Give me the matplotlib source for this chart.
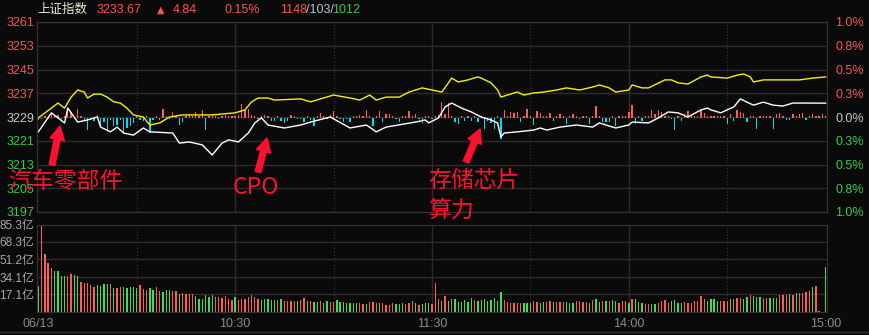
import matplotlib.pyplot as plt
from matplotlib.lines import Line2D

plt.rcParams['font.family'] = ['Liberation Sans', 'Noto Sans CJK SC', 'DejaVu Sans']

# ---- data ----
prev_close = 3228.83
last_price = 3233.67
change = 4.84
change_pct = '0.15%'
up_count, flat_count, down_count = 1148, 103, 1012

price_ticks = [3197, 3205, 3213, 3221, 3229, 3237, 3245, 3253, 3261]
pct_labels = ['1.0%', '0.8%', '0.5%', '0.3%', '0.0%', '0.3%', '0.5%', '0.8%', '1.0%']
vol_ticks = [17.1, 34.1, 51.2, 68.3, 85.3]
time_pos = [0, 60, 120, 180, 240]
time_labels = ['06/13', '10:30', '11:30', '14:00', '15:00']

# weighted index (white), minute -> price
white_min = [0, 4, 8, 9, 12, 15, 18, 19, 22, 24, 26, 29, 32, 34, 41, 43, 46, 50, 53, 56,
             58, 61, 64, 66, 68, 70, 75, 80, 83, 89, 95, 100, 103, 106, 115, 118, 119, 122,
             124, 126, 129, 132, 135, 138, 140, 141, 142, 146, 151, 153, 155, 159, 164, 169,
             171, 176, 180, 181, 186, 189, 192, 195, 198, 202, 204, 205, 208, 210, 212, 214,
             216, 218, 221, 224, 227, 230, 233, 240]
white_val = [3224.0, 3230.4, 3227.0, 3232.0, 3227.3, 3228.0, 3229.0, 3225.6, 3224.0, 3225.6,
             3223.6, 3222.9, 3225.3, 3224.0, 3223.6, 3220.2, 3220.6, 3219.6, 3216.2, 3220.2,
             3221.3, 3220.6, 3223.6, 3227.0, 3228.7, 3226.3, 3225.3, 3226.3, 3227.3, 3229.0,
             3225.3, 3226.3, 3224.0, 3225.6, 3227.3, 3228.0, 3227.0, 3228.7, 3232.4, 3233.7,
             3232.0, 3230.7, 3229.0, 3228.0, 3227.0, 3222.3, 3223.6, 3224.0, 3224.6, 3225.3,
             3224.6, 3225.6, 3226.3, 3225.6, 3227.0, 3225.3, 3226.3, 3227.3, 3227.0, 3228.7,
             3230.7, 3230.4, 3229.0, 3231.4, 3232.0, 3231.4, 3230.4, 3231.4, 3232.4, 3235.1,
             3234.0, 3233.0, 3234.0, 3233.0, 3232.7, 3233.7, 3233.7, 3233.67]

# unweighted index (yellow)
yellow_min = [0, 4, 6, 8, 10, 12, 14, 15, 17, 19, 21, 23, 25, 27, 29, 32, 34, 37, 40, 44,
              53, 60, 63, 65, 67, 70, 72, 80, 83, 86, 90, 95, 98, 101, 103, 106, 110, 113,
              117, 120, 123, 125, 126, 128, 131, 134, 135, 138, 140, 141, 143, 146, 148, 151,
              154, 158, 161, 165, 169, 171, 174, 176, 180, 181, 184, 186, 191, 193, 195, 198,
              202, 204, 205, 210, 213, 215, 217, 218, 221, 232, 236, 240]
yellow_val = [3228.7, 3232.0, 3233.7, 3232.0, 3235.7, 3238.1, 3237.4, 3235.4, 3236.7, 3236.7,
              3235.7, 3234.1, 3233.7, 3232.0, 3229.7, 3229.0, 3226.3, 3227.0, 3229.0, 3229.7,
              3229.7, 3230.4, 3231.4, 3234.1, 3235.4, 3235.4, 3234.7, 3235.1, 3234.1, 3235.1,
              3236.4, 3235.4, 3234.7, 3236.4, 3234.7, 3235.7, 3235.7, 3237.4, 3238.8, 3238.1,
              3237.4, 3240.5, 3242.1, 3240.8, 3241.5, 3242.5, 3242.1, 3240.5, 3238.1, 3235.7,
              3236.4, 3237.4, 3236.4, 3237.1, 3237.4, 3238.1, 3238.8, 3238.1, 3239.1, 3239.8,
              3238.8, 3237.4, 3238.1, 3239.8, 3238.8, 3238.8, 3241.5, 3241.5, 3240.5, 3240.1,
              3242.5, 3243.1, 3242.5, 3242.1, 3243.1, 3243.5, 3242.5, 3240.8, 3241.5, 3241.5,
              3242.1, 3242.5]

# buy/sell strength bars around the zero line, one per minute
strength = [-2, -1, 1, -1, 3, 1, 2, -1, 1, 8,
            5, -1, 8, 1, -2, -12, -2, -3, 2, -7,
            -4, -13, -2, -8, -7, -2, -15, -10, -8, -5,
            2, -2, -3, 1, -15, -2, 1, -2, 8, 1,
            -1, 5, 1, -7, -4, 1, 2, 1, 5, 1,
            7, -12, 1, 3, 1, -1, 1, 2, 1, 1,
            1, 2, 13, 7, 8, 2, 1, -1, 1, 2,
            1, -3, -3, 1, -3, -5, -3, 2, 1, -1,
            -1, -4, 1, -2, -8, 1, 4, 1, -1, 2,
            6, 1, -1, -4, -1, -4, 1, 1, 2, 1,
            7, 1, -8, 1, 6, -4, 3, 3, 1, -1,
            -4, 1, 1, 6, 1, 3, -1, -5, 1, 1,
            -1, 1, 2, 15, 3, 14, 1, -4, -6, 1,
            -3, 1, -3, 1, -4, 1, -11, -3, -5, -11,
            1, -21, 7, 1, 5, 4, 5, -4, 1, 8,
            1, -7, 6, 4, 1, 1, 4, -3, 1, 3,
            1, -6, 1, 3, 1, -1, 1, 1, -6, 1,
            11, 1, -4, -4, -4, 1, -8, 1, 1, 1,
            5, 12, -6, 1, -3, 1, 1, 7, 3, 7,
            5, 1, 1, -1, -12, 1, -3, 3, 6, 1,
            1, 1, 7, 4, 1, 1, 1, 1, 1, 1,
            -6, 3, -3, 7, 5, 4, -4, 1, 1, -11,
            1, 1, 1, 1, -11, 3, 4, 1, -2, -2,
            3, 1, 3, 4, -2, 1, 3, 1, 1, 3,
            1]
strength_scale = 0.34

# volume per minute (亿) and up/down flag
volume = [25.4, 85.3, 57, 48, 43, 39.7, 39.7, 34.8, 34.8, 34.8,
          37.4, 35.8, 34.8, 29.3, 28.6, 28.6, 26, 24.4, 26, 25.4,
          27, 27, 27, 23.4, 23.7, 24.4, 24, 23.4, 24.4, 24.4,
          23.4, 26, 22, 21, 23.4, 21, 24.4, 20, 19.5, 21,
          21, 20, 20, 17.9, 18.5, 17.9, 17.2, 17.2, 15.6, 12.4,
          13, 16.3, 14.6, 16.3, 14.6, 14.6, 14, 15.3, 12.4, 11.4,
          14.6, 11.4, 12.4, 12.4, 14.6, 16.3, 14.6, 13, 11.4, 12.4,
          12.4, 11.4, 11.4, 11.4, 12.4, 10.4, 10.4, 10.4, 10.4,
          11.1, 12, 14, 11.1, 10.4, 10.1, 10.1, 11.1, 8.8, 11.1,
          10.1, 10.1, 12, 10.1, 10.1, 9.1, 9.1, 9.1, 9.1, 9.1,
          8.1, 8.1, 10.1, 10.1, 9.1, 9.1, 9.1, 7.2, 7.2, 9.1,
          8.1, 8.1, 9.1, 8.1, 9.1, 11.1, 9.1, 7.2, 8.1, 9.1,
          9.1, 8.1, 28.6,
          13, 11.1, 16, 10.4, 13, 13, 10.1, 10.1, 12, 10.1,
          14, 12, 11.1, 12, 13, 11.1, 12, 14, 11.1, 19.8,
          12, 10.1, 9.1, 9.1, 9.1, 9.1, 9.1, 9.1, 9.1, 11.1,
          10.1, 9.1, 10.1, 10.1, 11.1, 10.1, 10.1, 10.1, 10.1, 10.1,
          9.1, 9.1, 10.4, 10.4, 9.8, 9.8, 9.1, 11.4, 12.4, 9.8,
          10.4, 10.4, 10.4, 11.4, 10.4, 9.1, 10.4, 10.4, 9.1, 13,
          12.4, 9.8, 9.1, 8.1, 8.1, 8.1, 8.1, 9.1, 10.4, 11.4,
          9.1, 10.4, 11.4, 9.1, 9.1, 9.8, 9.1, 9.1, 10.4, 10.4,
          15.3, 12.4, 10.4, 12.4, 12.4, 10.4, 10.4, 10.4, 10.4, 13,
          12.4, 14, 14, 13, 14.6, 16.3, 15.3, 14.6, 14.6, 14,
          14, 14, 14, 14, 16.3, 16.3, 16.3, 17.2, 16.3, 18.5,
          18.8, 18.8, 19.5, 20.2, 24.4, 25, 0.6, 0, 44]
vol_dir = ('grrrrggggr' 'rggrrrrrgg' 'ggrgrrgggg' 'grrrggrrgg' 'grrgrrrrgg'
           'ggggrrrrrr' 'grrrrrrrgg' 'gggrgrrrr'
           'grrgrggrgg' 'rrgggggggr' 'rgrrrgrrrr' 'gggrrrgrgg' 'grr'
           'rgrgrggggg' 'grgggggggg' 'rrrrrrgggr' 'rggrrgrrrg'
           'ggrrrrgrgg' 'rgrggrrrgr' 'gggrrggrrr' 'rggggrrrrr' 'rrggggrrrg'
           'rrrggrgggr' 'rgggrrrgrg' 'rrrrgrggg')

notes = ['汽车零部件', 'CPO', '存储芯片', '算力']

# ---- style ----
BG = '#0a0a0a'
GRID = '#2c2c2c'
RED = '#ff5b5b'
GREEN = '#3fdc5c'
CYAN = '#00dcf0'
LBL_RED = '#ff5252'
LBL_GREEN = '#34cc48'
LBL_GREY = '#c4c8d0'
MARK = '#ff1030'

minutes = list(range(len(volume)))

fig = plt.figure(figsize=(8.7, 3.35), dpi=100, facecolor=BG)
W, H = 870, 335
ax = fig.add_axes([37 / W, 1 - 212 / H, 790 / W, 190 / H], facecolor=BG)
axv = fig.add_axes([37 / W, 1 - 312 / H, 790 / W, 87.5 / H], facecolor=BG)

for a in (ax, axv):
    a.set_xlim(-0.4, 240.4)
    for s in a.spines.values():
        s.set_color('#333333')
    a.tick_params(length=0)
    for m in (60, 120, 180):
        a.axvline(m, color=GRID, lw=1, zorder=0)
    for m in (30, 90, 150, 210):
        a.axvline(m, color='#3a3a3a', lw=0.8, ls=(0, (1, 2)), zorder=0)

# main price panel
ax.set_ylim(price_ticks[0], price_ticks[-1])
for p in price_ticks:
    ax.axhline(p, color=GRID, lw=1, zorder=0)
ax.set_xticks([])
ax.set_yticks(price_ticks)
ax.set_yticklabels([str(p) for p in price_ticks], fontsize=9)
ax.tick_params(axis='y', pad=2)
for p, t in zip(price_ticks, ax.get_yticklabels()):
    t.set_color(LBL_RED if p > 3229 else (LBL_GREY if p == 3229 else LBL_GREEN))

ax2 = ax.twinx()
ax2.set_ylim(price_ticks[0], price_ticks[-1])
ax2.set_yticks(price_ticks)
ax2.set_yticklabels(pct_labels, fontsize=9)
ax2.tick_params(length=0, pad=6)
for s in ax2.spines.values():
    s.set_color('#333333')
for p, t in zip(price_ticks, ax2.get_yticklabels()):
    t.set_color(LBL_RED if p > 3229 else (LBL_GREY if p == 3229 else LBL_GREEN))

s_pos = [v * strength_scale if v > 0 else 0 for v in strength]
s_neg = [v * strength_scale if v < 0 else 0 for v in strength]
ax.bar(minutes, s_pos, bottom=prev_close, width=0.4, color=RED, linewidth=0, zorder=2)
ax.bar(minutes, s_neg, bottom=prev_close, width=0.4, color=CYAN, linewidth=0, zorder=2)
ax.plot(yellow_min, yellow_val, color='#f2f200', lw=1.0, zorder=3)
ax.plot(white_min, white_val, color='white', lw=1.0, zorder=4)

# volume panel
axv.set_ylim(0, vol_ticks[-1])
for v in vol_ticks:
    axv.axhline(v, color=GRID, lw=1, zorder=0)
axv.set_yticks(vol_ticks)
axv.set_yticklabels([f'{v}亿' for v in vol_ticks], fontsize=8.5, color='#a8a8a8')
axv.tick_params(axis='y', pad=2)
axv.set_xticks(time_pos)
axv.set_xticklabels(time_labels, fontsize=9, color='#8c8c8c')
axv.tick_params(axis='x', pad=4)
vcols = [RED if d == 'r' else GREEN for d in vol_dir]
axv.bar(minutes, volume, width=0.4, color=vcols, linewidth=0, zorder=2)

# header line
hy = 1 - 10 / H
fig.text(37 / W, hy, '上证指数', color='#ecebd2', fontsize=9, va='center')
fig.text(97 / W, hy, f'{last_price:.2f}', color=LBL_RED, fontsize=9, va='center')
fig.text(157 / W, hy, '▲', color=LBL_RED, fontsize=7, va='center', family='DejaVu Sans')
fig.text(173 / W, hy, f'{change:.2f}', color=LBL_RED, fontsize=9, va='center')
fig.text(225 / W, hy, change_pct, color=LBL_RED, fontsize=9, va='center')
t1 = fig.text(280 / W, hy, str(up_count), color=LBL_RED, fontsize=9, va='center')
fig.text(306 / W, hy, f'/{flat_count}/', color='#b8c4dc', fontsize=9, va='center')
fig.text(332 / W, hy, str(down_count), color=LBL_GREEN, fontsize=9, va='center')

# red hand-drawn notes
note_pos = [(8, 182), (233, 187), (428, 180), (428, 210)]
for txt, (x, y) in zip(notes, note_pos):
    fig.text(x / W, 1 - y / H, txt, color=MARK, fontsize=16.5, va='center',
             family=['Noto Sans CJK SC', 'DejaVu Sans'])

arrows = [((52, 165), (60, 126)), ((258, 172), (267, 138)), ((466, 162), (480, 129))]
for (tx, ty), (hx, hy_) in arrows:
    ax.annotate('', xy=(hx, H - hy_), xytext=(tx, H - ty),
                xycoords='figure pixels', textcoords='figure pixels',
                annotation_clip=False,
                arrowprops=dict(arrowstyle='simple,head_length=0.7,head_width=0.75,tail_width=0.3',
                                color=MARK, mutation_scale=14, shrinkA=0, shrinkB=0))

fig.add_artist(Line2D([0, 1], [3 / H, 3 / H], color='#333333', lw=1))

fig.savefig('out.png', dpi=100, facecolor=BG)
